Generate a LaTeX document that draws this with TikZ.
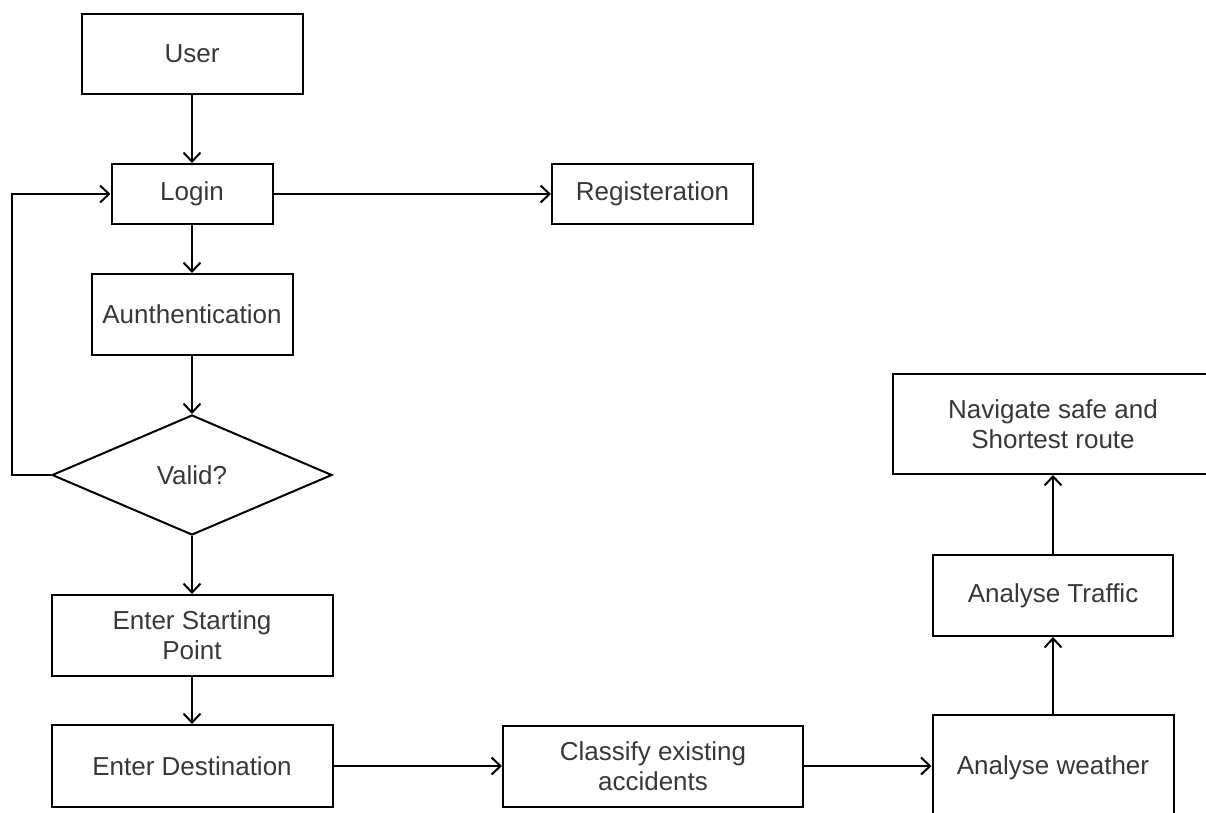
\documentclass[tikz,border=0pt]{standalone}
\usepackage{fontspec}
\setmainfont{Liberation Sans}
\usetikzlibrary{arrows.meta,shapes.geometric}
\begin{document}
\begin{tikzpicture}[x=1pt,y=-1pt,
  box/.style={draw, line width=2pt, inner sep=0pt, align=center,
    text=black!78, font=\fontsize{26}{30}\selectfont},
  decision/.style={box, diamond, aspect=2.33},
  link/.style={line width=2pt, -{Straight Barb[length=9pt,width=17pt,line width=2pt]}}]
\useasboundingbox (0,0) rectangle (1206,812);
\clip (0,0) rectangle (1206,812);
\fill[white] (0,0) rectangle (1206,812);

\node[box, minimum width=221pt, minimum height=80pt] (user) at (192,54) {User};
\node[box, minimum width=161pt, minimum height=60pt] (login) at (192,194) {Login};
\node[box, minimum width=201pt, minimum height=60pt] (reg) at (652.5,194) {Registeration};
\node[box, minimum width=201pt, minimum height=81pt] (auth) at (192,314.5) {Aunthentication};
\node[decision, minimum width=280pt, minimum height=120pt] (valid) at (192,475) {Valid?};
\node[box, minimum width=281pt, minimum height=81pt] (start) at (192,635.5) {Enter Starting\\Point};
\node[box, minimum width=281pt, minimum height=82pt] (dest) at (192,766) {Enter Destination};
\node[box, minimum width=300pt, minimum height=81pt] (classify) at (653,766) {Classify existing\\accidents};
\node[box, minimum width=241pt, minimum height=106pt] (weather) at (1053,768) {Analyse weather};
\node[box, minimum width=240pt, minimum height=81pt] (traffic) at (1053,595.5) {Analyse Traffic};
\node[box, minimum width=320pt, minimum height=100pt] (nav) at (1053,424) {Navigate safe and\\Shortest route};

\coordinate (loopa) at (12,475);
\coordinate (loopb) at (12,194);

\draw[link] (user) -- (login);
\draw[link] (login) -- (auth);
\draw[link] (login) -- (reg);
\draw[link] (auth) -- (valid.north);
\draw[link] (valid.south) -- (start);
\draw[link] (start) -- (dest);
\draw[link] (valid.west) -- (loopa) -- (loopb) -- (login.west);
\draw[link] (dest) -- (classify);
\draw[link] (classify.east) -- (classify.east -| weather.west);
\draw[link] (weather.north) -- (traffic.south);
\draw[link] (traffic.north) -- (traffic.north |- nav.south);
\end{tikzpicture}
\end{document}
